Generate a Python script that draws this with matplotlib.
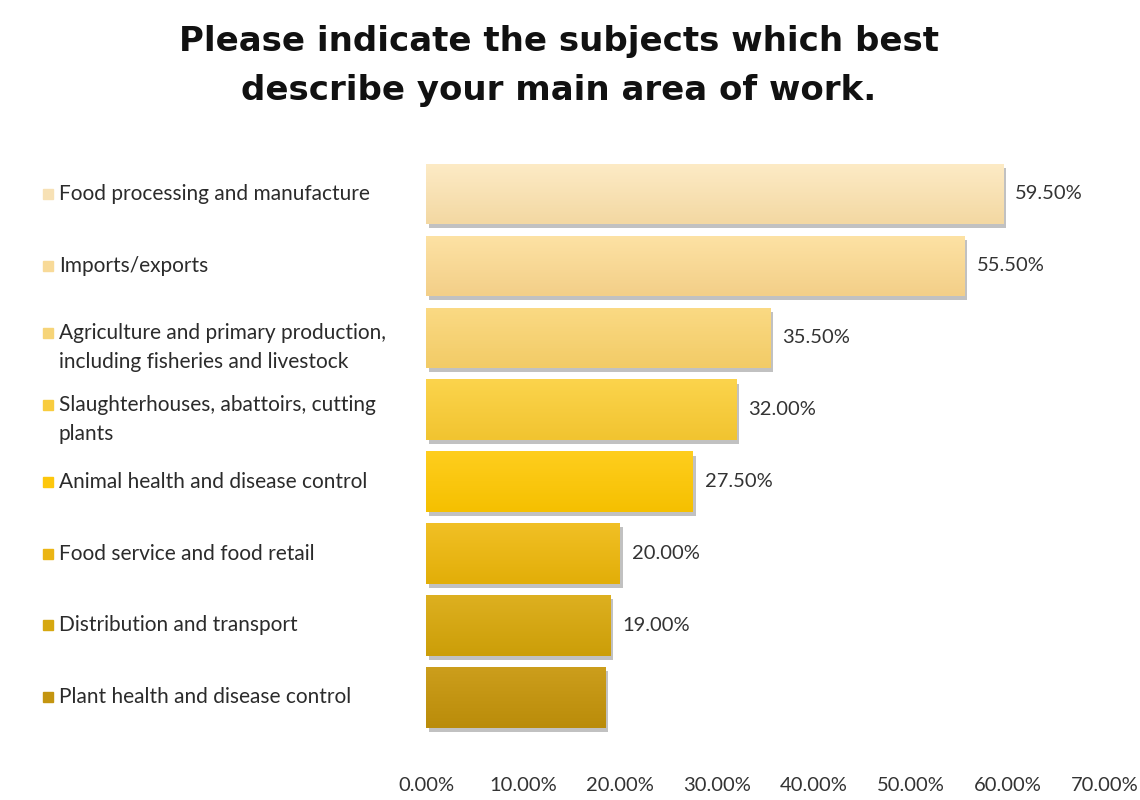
import matplotlib
matplotlib.use("Agg")
import matplotlib.pyplot as plt
import numpy as np
from matplotlib import transforms, patheffects
from matplotlib.colors import to_rgb

# ---------------- data ----------------
title = "Please indicate the subjects which best\ndescribe your main area of work."
categories = [
    "Food processing and manufacture",
    "Imports/exports",
    "Agriculture and primary production,\nincluding fisheries and livestock",
    "Slaughterhouses, abattoirs, cutting\nplants",
    "Animal health and disease control",
    "Food service and food retail",
    "Distribution and transport",
    "Plant health and disease control",
]
values = [59.5, 55.5, 35.5, 32.0, 27.5, 20.0, 19.0, 18.5]
value_labels = ["59.50%", "55.50%", "35.50%", "32.00%", "27.50%", "20.00%", "19.00%", ""]
tick_values = [0, 10, 20, 30, 40, 50, 60, 70]
tick_labels = ["0.00%", "10.00%", "20.00%", "30.00%", "40.00%", "50.00%", "60.00%", "70.00%"]

top_colors = ["#FDEBC6", "#FDE2A4", "#FBDA84", "#FCD44C", "#FFCE1E", "#F1C025", "#DDB020", "#CC9E1C"]
bottom_colors = ["#F3D8A2", "#F3CF88", "#F2CB66", "#F1C430", "#F5C000", "#E2AE08", "#CC9E08", "#BA8C0A"]
marker_colors = ["#F7E1B5", "#F8DA98", "#F6D478", "#F8CC3E", "#FDC70C", "#EBB514", "#D6A810", "#C49510"]

# ---------------- figure ----------------
W, H = 1140, 800
fig = plt.figure(figsize=(W / 100, H / 100), dpi=100)
fig.patch.set_facecolor("white")

ax_left_px, ax_right_px = 426, 1105
ax_top_px, ax_bot_px = 158, 770
ax = fig.add_axes([ax_left_px / W, 1 - ax_bot_px / H,
                   (ax_right_px - ax_left_px) / W, (ax_bot_px - ax_top_px) / H])

y = np.arange(len(categories))
bar_h = 0.84
bars = ax.barh(y, values, height=bar_h, color=bottom_colors, edgecolor="none", zorder=2)

ymin, ymax = 8.01, -0.5
ax.set_xlim(0, 70)
ax.set_ylim(ymin, ymax)

for i, b in enumerate(bars):
    b.set_path_effects([patheffects.SimplePatchShadow(offset=(2, -3), shadow_rgbFace="#666666", alpha=0.4),
                        patheffects.Normal()])
    c0 = np.array(to_rgb(top_colors[i]))
    c1 = np.array(to_rgb(bottom_colors[i]))
    t = np.linspace(0, 1, 64)[:, None]
    grad = (c0[None, :] * (1 - t) + c1[None, :] * t)[:, None, :]
    yc = y[i]
    im = ax.imshow(grad, extent=(0, values[i], yc + bar_h / 2, yc - bar_h / 2),
                   origin="upper", aspect="auto", zorder=3, interpolation="bilinear")
    im.set_clip_path(b)

ax.set_xlim(0, 70)
ax.set_ylim(ymin, ymax)

# value labels
for i, (v, lab) in enumerate(zip(values, value_labels)):
    if lab:
        ax.text(v + 1.25, y[i], lab, va="center", ha="left", fontsize=14.5,
                family="Lato", color="#333333", zorder=4)

# axes styling
ax.set_xticks(tick_values)
ax.set_xticklabels(tick_labels, fontsize=14.5, family="Lato", color="#333333")
ax.tick_params(axis="x", length=0, pad=5)
ax.set_yticks([])
for s in ax.spines.values():
    s.set_visible(False)
ax.set_facecolor("none")

# left category labels with colored squares
blend = transforms.blended_transform_factory(fig.transFigure, ax.transData)
for i, cat in enumerate(categories):
    lines = cat.split("\n")
    yc = y[i] - (0.07 if len(lines) > 1 else 0)
    ax.plot([47.5 / W], [yc], marker="s", markersize=7.5, color=marker_colors[i],
            transform=blend, clip_on=False, linestyle="none")
    for j, line in enumerate(lines):
        ax.text(59 / W, yc + j * 0.41, line, transform=blend, va="center", ha="left",
                fontsize=15, family="Lato", color="#2b2b2b", clip_on=False)

# title
fig.text(0.49, 1 - 66 / H, title, ha="center", va="center", fontsize=24.5,
         fontweight="bold", family="DejaVu Sans", color="#111111", linespacing=1.62)

fig.savefig("out.png", dpi=100, facecolor="white")
